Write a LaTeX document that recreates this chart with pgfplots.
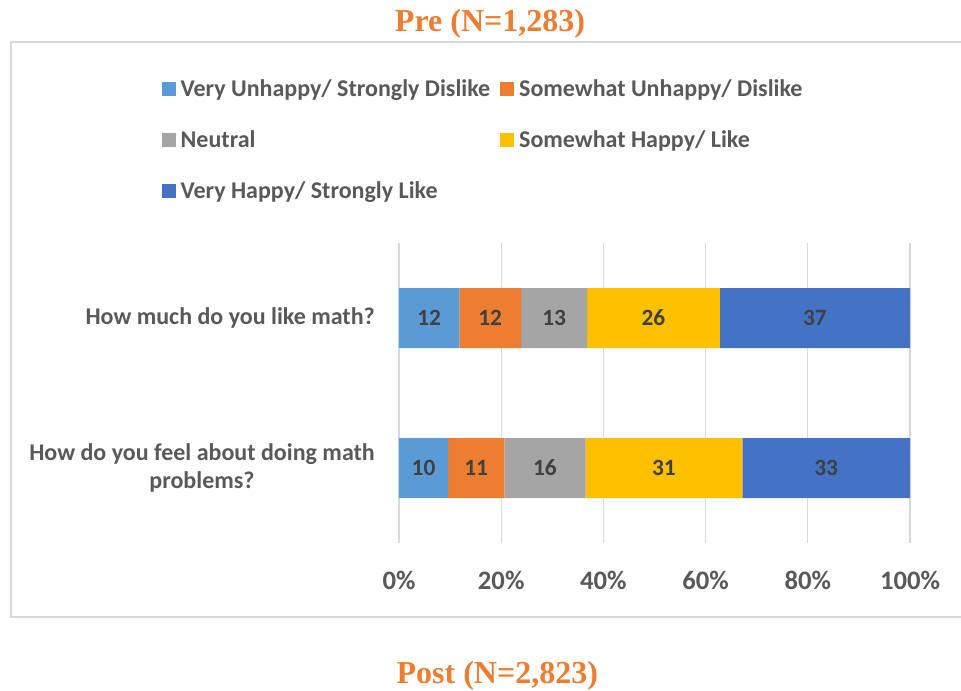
\documentclass[border=0pt]{standalone}
\usepackage{fontspec}
\setmainfont{Carlito}
\newfontfamily\titlefont{Liberation Serif}
\usepackage{pgfplots}
\usepackage{pgfplotstable}
\pgfplotsset{compat=1.18}
\definecolor{cA}{HTML}{5B9BD5}
\definecolor{cB}{HTML}{ED7D31}
\definecolor{cC}{HTML}{A5A5A5}
\definecolor{cD}{HTML}{FFC000}
\definecolor{cE}{HTML}{4472C4}
\definecolor{txt}{HTML}{595959}
\definecolor{lab}{HTML}{404040}
\definecolor{grd}{HTML}{D9D9D9}
\definecolor{ttl}{HTML}{ED7D31}

\pgfplotstableread{
y  vu    sd    ne    sh    vh
1  11.8  12.1  12.9  26.0  37.2
0  9.6   11.0  15.9  30.7  32.8
}\bars

\pgfplotstableread{
x      y  lab
5.9    1  12
17.85  1  12
30.35  1  13
49.8   1  26
81.4   1  37
4.8    0  10
15.1   0  11
28.55  0  16
51.85  0  31
83.6   0  33
}\labels

\pgfplotsset{
  sq/.style={legend image code/.code={\fill[##1] (0pt,-5.25pt) rectangle (10.5pt,5.25pt);}},
  geom/.style={at={(299.25pt,-407.25pt)}, anchor=south west, scale only axis,
    width=383.25pt, height=225pt, xmin=0, xmax=100, ymin=-0.5, ymax=1.5},
}

\begin{document}
\begin{tikzpicture}
\useasboundingbox (0pt,0pt) rectangle (720.75pt,-517.5pt);
\draw[grd, line width=1pt] (722pt,-31.5pt) -| (8.25pt,-462.75pt) -- (722pt,-462.75pt);

\node[font=\titlefont\bfseries\fontsize{24}{28}\selectfont, text=ttl] at (367.5pt,-18pt) {Pre (N=1,283)};
\node[font=\titlefont\bfseries\fontsize{24}{28}\selectfont, text=ttl] at (373pt,-507pt) {Post (N=2,823)};

\begin{axis}[geom,
  xbar stacked, bar width=0.4,
  ytick={0,1},
  yticklabels={{How do you feel about doing math\\problems?},{How much do you like math?}},
  yticklabel style={align=center, font=\fontsize{18}{21}\selectfont\bfseries, text=txt, inner sep=0pt, xshift=-18pt},
  xtick={0,20,...,100},
  xticklabel={\pgfmathprintnumber{\tick}\%},
  xticklabel style={font=\fontsize{20}{24}\selectfont\bfseries, text=txt, inner sep=0pt, yshift=-21pt},
  /pgf/number format/assume math mode=true,
  xmajorgrids, major grid style={grd, line width=1pt},
  axis line style={draw=none}, major tick length=0pt,
  legend cell align=left,
  legend style={draw=none, fill=none, at={(-0.465,1.545)}, anchor=north west,
    legend columns=2, inner sep=0pt,
    font=\fontsize{18}{20}\selectfont\bfseries, text=txt,
    row sep=24pt,
    /tikz/every odd column/.append style={column sep=3.75pt},
    /tikz/every even column/.append style={column sep=7.5pt},
    nodes={inner sep=0pt}},
]
\addplot[fill=cA, draw=none, sq] table[x=vu, y=y]{\bars};
\addlegendentry{Very Unhappy/ Strongly Dislike}
\addplot[fill=cB, draw=none, sq] table[x=sd, y=y]{\bars};
\addlegendentry{Somewhat Unhappy/ Dislike}
\addplot[fill=cC, draw=none, sq] table[x=ne, y=y]{\bars};
\addlegendentry{Neutral}
\addplot[fill=cD, draw=none, sq] table[x=sh, y=y]{\bars};
\addlegendentry{Somewhat Happy/ Like}
\addplot[fill=cE, draw=none, sq] table[x=vh, y=y]{\bars};
\addlegendentry{Very Happy/ Strongly Like}
\end{axis}

\begin{axis}[geom, hide axis]
\addplot[draw=none, mark=none, nodes near coords, point meta=explicit symbolic,
  every node near coord/.append style={anchor=center, font=\fontsize{17.5}{20}\selectfont\bfseries, text=lab}]
  table[x=x, y=y, meta=lab]{\labels};
\end{axis}
\end{tikzpicture}
\end{document}
